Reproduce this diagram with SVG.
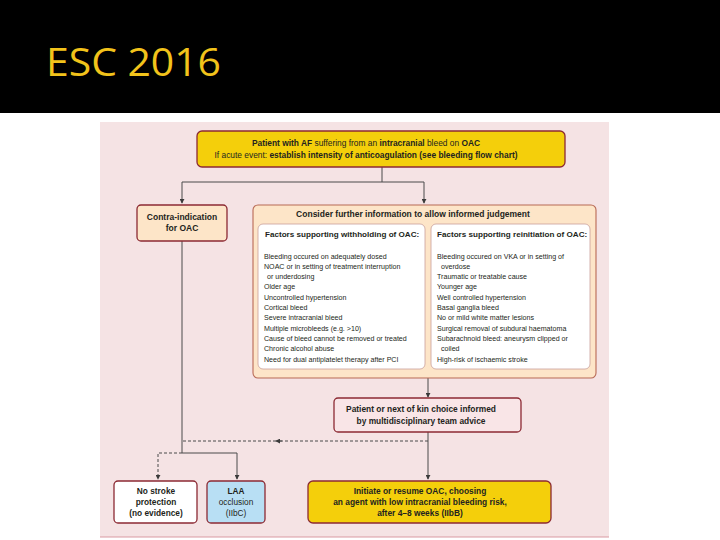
<svg xmlns="http://www.w3.org/2000/svg" width="720" height="540" viewBox="0 0 720 540">
<defs>
<style>
.t{font-family:"Liberation Sans","DejaVu Sans",sans-serif;fill:#231f20}
.b{font-weight:bold}
.hd{font-size:8.1px;font-weight:bold}
.it{font-size:7.1px}
.bx{stroke:#8c2a33;stroke-width:1.3}
.ln{fill:none;stroke:#4a4a4a;stroke-width:1}
.dl{fill:none;stroke:#4a4a4a;stroke-width:1;stroke-dasharray:3 2}
</style>
<marker id="ah" viewBox="0 0 6 6" refX="5" refY="3" markerWidth="5" markerHeight="5" orient="auto">
<path d="M0,0 L6,3 L0,6 z" fill="#3a3a3a"/>
</marker>
</defs>
<rect x="0" y="0" width="720" height="540" fill="#ffffff"/>
<rect x="0" y="0" width="720" height="113" fill="#000000"/>
<text x="46" y="76" font-family="'Open Sans','DejaVu Sans',sans-serif" font-size="38" fill="#f2c31b" textLength="175" lengthAdjust="spacingAndGlyphs">ESC 2016</text>
<rect x="100" y="122" width="509" height="415" fill="#f5e3e4"/>
<line x1="100" y1="537" x2="609" y2="537" stroke="#d99aa2" stroke-width="1.2"/>

<g id="connectors">
<path class="ln" d="M382,167 V182 M182,182 H424"/>
<path class="ln" d="M182,182 V203" marker-end="url(#ah)"/>
<path class="ln" d="M424,182 V203" marker-end="url(#ah)"/>
<path class="ln" d="M182,241 V453 H237 V479" marker-end="url(#ah)"/>
<path class="ln" d="M428,378 V397" marker-end="url(#ah)"/>
<path class="ln" d="M428,432 V479" marker-end="url(#ah)"/>
<path class="dl" d="M428,441 H280"/>
<path class="dl" d="M282,441 H276" marker-end="url(#ah)"/>
<path class="dl" d="M276,441 H182"/>
<path class="dl" d="M182,453 H158 V479" marker-end="url(#ah)"/>
</g>

<g id="top">
<rect class="bx" x="197" y="131" width="368" height="36" rx="5" fill="#f4cf0b"/>
<text class="t" x="366" y="146" font-size="8.4" text-anchor="middle"><tspan class="b">Patient with AF</tspan> suffering from an <tspan class="b">intracranial</tspan> bleed on <tspan class="b">OAC</tspan></text>
<text class="t" x="366" y="157.5" font-size="8.4" text-anchor="middle">If acute event: <tspan class="b">establish intensity of anticoagulation (see bleeding flow chart)</tspan></text>
</g>

<g id="contra">
<rect class="bx" x="137" y="205" width="90" height="36" rx="4" fill="#fde5c8"/>
<text class="t b" x="182" y="220" font-size="8.5" text-anchor="middle">Contra-indication</text>
<text class="t b" x="182" y="231" font-size="8.5" text-anchor="middle">for OAC</text>
</g>

<g id="consider">
<rect x="253" y="205" width="343" height="173" rx="5" fill="#fde5c8" stroke="#b86a55" stroke-width="1.1"/>
<text class="t b" x="413" y="217" font-size="8.5" text-anchor="middle">Consider further information to allow informed judgement</text>
<rect x="258" y="224" width="167" height="145" rx="5" fill="#ffffff" stroke="#c9a09a" stroke-width="0.8"/>
<rect x="431" y="224" width="159" height="145" rx="5" fill="#ffffff" stroke="#c9a09a" stroke-width="0.8"/>
<text class="t hd" x="265" y="237">Factors supporting withholding of OAC:</text>
<text class="t hd" x="437" y="237">Factors supporting reinitiation of OAC:</text>
<g class="t it">
<text x="264" y="258.5">Bleeding occured on adequately dosed</text>
<text x="264" y="268.5">NOAC or in setting of treatment interruption</text>
<text x="267" y="279">or underdosing</text>
<text x="264" y="289">Older age</text>
<text x="264" y="299.5">Uncontrolled hypertension</text>
<text x="264" y="309.5">Cortical bleed</text>
<text x="264" y="320">Severe intracranial bleed</text>
<text x="264" y="330.5">Multiple microbleeds (e.g. &gt;10)</text>
<text x="264" y="340.5">Cause of bleed cannot be removed or treated</text>
<text x="264" y="351">Chronic alcohol abuse</text>
<text x="264" y="361.5">Need for dual antiplatelet therapy after PCI</text>
<text x="437" y="258.5">Bleeding occured on VKA or in setting of</text>
<text x="441" y="268.5">overdose</text>
<text x="437" y="279">Traumatic or treatable cause</text>
<text x="437" y="289">Younger age</text>
<text x="437" y="299.5">Well controlled hypertension</text>
<text x="437" y="309.5">Basal ganglia bleed</text>
<text x="437" y="320">No or mild white matter lesions</text>
<text x="437" y="330.5">Surgical removal of subdural haematoma</text>
<text x="437" y="340.5">Subarachnoid bleed: aneurysm clipped or</text>
<text x="441" y="351">coiled</text>
<text x="437" y="361.5">High-risk of ischaemic stroke</text>
</g>
</g>

<g id="patient">
<rect class="bx" x="334" y="398" width="187" height="34" rx="4" fill="#f9e5e7"/>
<text class="t b" x="421" y="412" font-size="8.4" text-anchor="middle">Patient or next of kin choice informed</text>
<text class="t b" x="421" y="423.5" font-size="8.4" text-anchor="middle">by multidisciplinary team advice</text>
</g>

<g id="nostroke">
<rect class="bx" x="114" y="481" width="83" height="42" rx="4" fill="#ffffff"/>
<text class="t b" x="156" y="493.5" font-size="8.3" text-anchor="middle">No stroke</text>
<text class="t b" x="156" y="504.5" font-size="8.3" text-anchor="middle">protection</text>
<text class="t b" x="156" y="515.5" font-size="8.3" text-anchor="middle">(no evidence)</text>
</g>

<g id="laa">
<rect class="bx" x="207" y="481" width="58" height="42" rx="4" fill="#b8dff4"/>
<text class="t b" x="236" y="493.5" font-size="8.3" text-anchor="middle">LAA</text>
<text class="t" x="236" y="504.5" font-size="8.3" text-anchor="middle">occlusion</text>
<text class="t" x="236" y="515.5" font-size="8.3" text-anchor="middle">(IIbC)</text>
</g>

<g id="initiate">
<rect class="bx" x="308" y="481" width="243" height="42" rx="5" fill="#f4cf0b"/>
<text class="t b" x="420" y="493.5" font-size="8.4" text-anchor="middle">Initiate or resume OAC, choosing</text>
<text class="t b" x="420" y="504.5" font-size="8.4" text-anchor="middle">an agent with low intracranial bleeding risk,</text>
<text class="t b" x="420" y="515.5" font-size="8.4" text-anchor="middle">after 4–8 weeks (IIbB)</text>
</g>
</svg>
